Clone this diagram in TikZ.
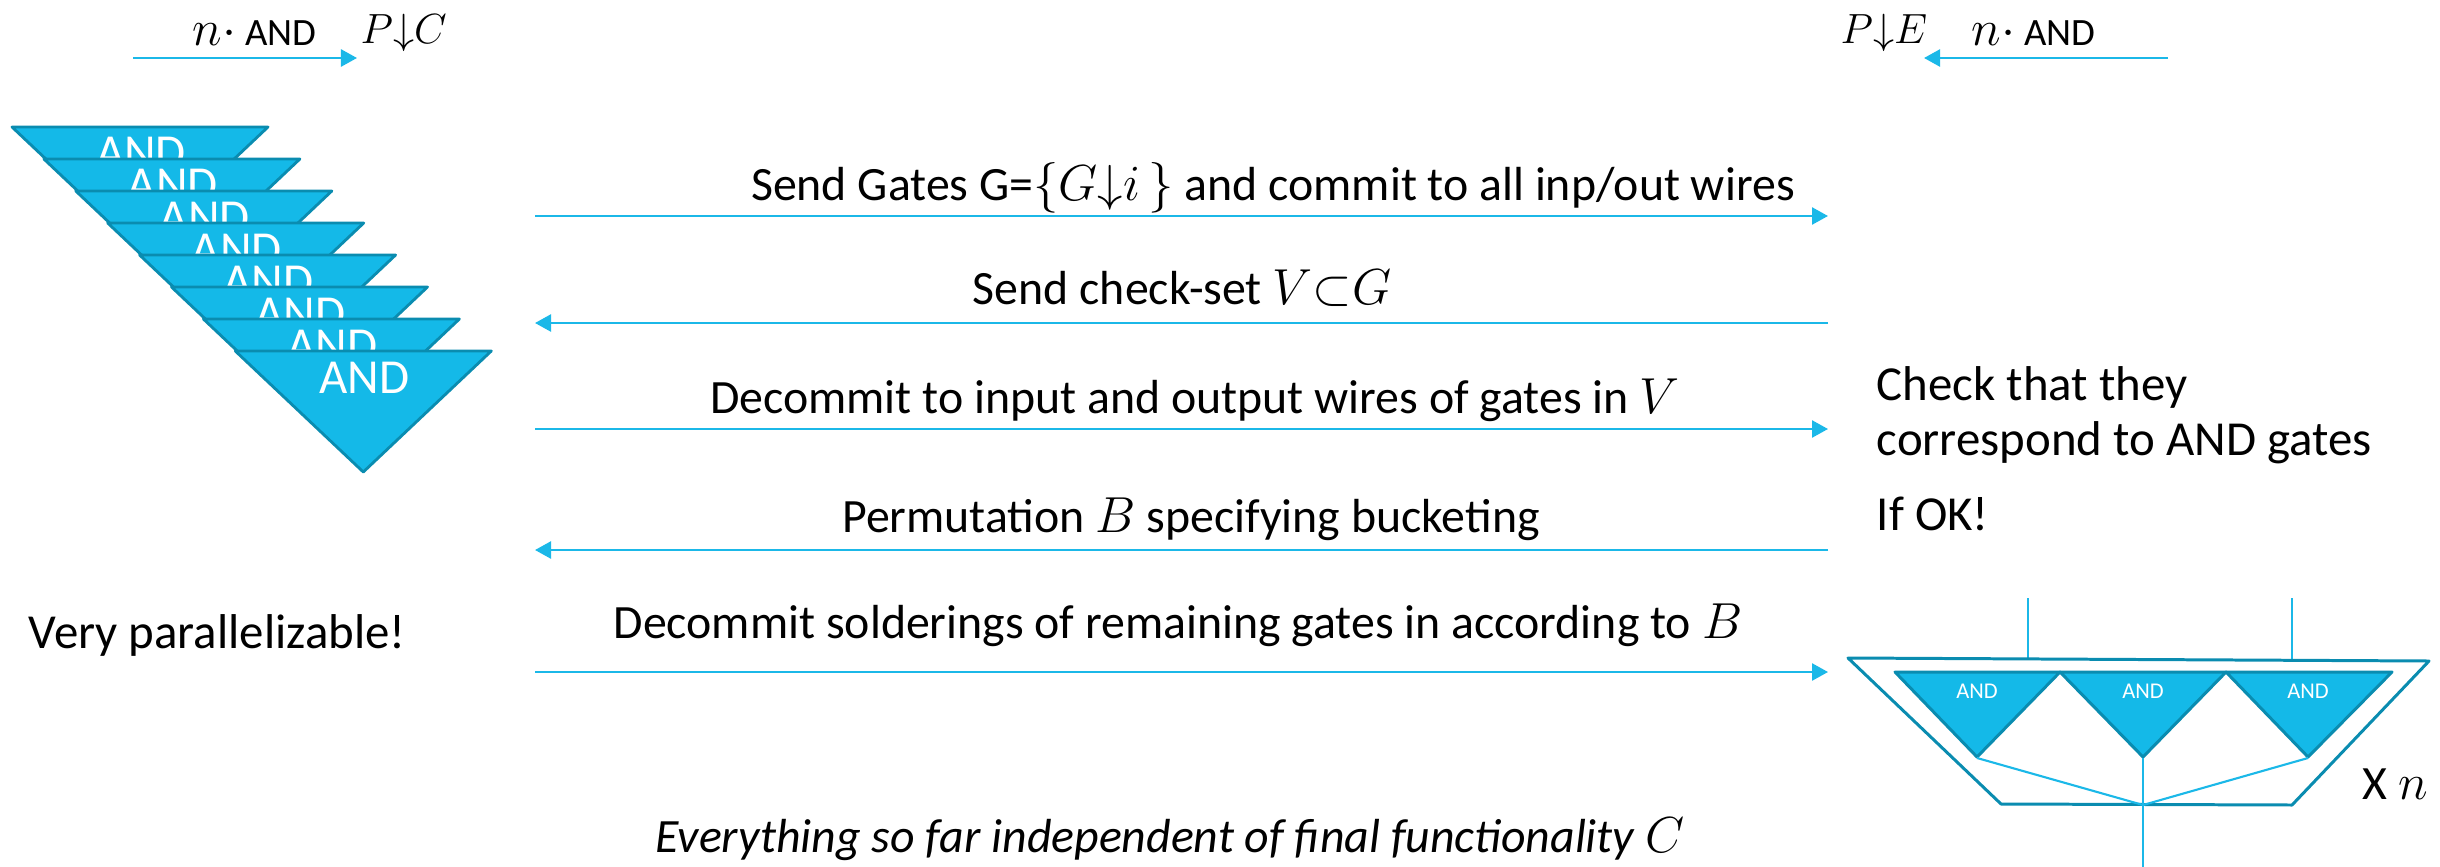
\documentclass[tikz,border=0pt]{standalone}
\usepackage{fontspec}
\setmainfont{Carlito}
\usetikzlibrary{arrows.meta}
\definecolor{arr}{HTML}{1BB8E8}
\definecolor{gfill}{HTML}{14B9E8}
\definecolor{gdraw}{HTML}{0A8CB0}
\tikzset{
  msg/.style={draw=arr, line width=0.7pt, -{Triangle[length=0.16cm,width=0.17cm]}},
  txt/.style={font=\fontsize{13.6pt}{17pt}\selectfont, inner sep=0pt, anchor=base},
  small/.style={font=\fontsize{11pt}{13pt}\selectfont, inner sep=0pt, anchor=base west},
  gate/.style={fill=gfill, draw=gdraw, line width=0.8pt, line join=round},
  gatelbl/.style={text=white, font=\fontsize{13.9pt}{17pt}\selectfont, inner sep=0pt, anchor=base},
  tinylbl/.style={text=white, font=\fontsize{6.4pt}{8pt}\selectfont, inner sep=0pt, anchor=base},
  frame/.style={draw=gdraw, line width=0.85pt, line join=round},
  wire/.style={draw=arr, line width=0.6pt},
}
\newcommand{\bign}{{\fontsize{13.5pt}{15pt}\selectfont$n\cdot$}}
\begin{document}
\begin{tikzpicture}[x=0.01cm, y=-0.01cm]
\useasboundingbox (0,0) rectangle (2440,867);

% ---- top labels ----
\coordinate (tlA) at (133,58);
\coordinate (tlB) at (357,58);
\draw[msg] (tlA) -- (tlB);
\node[small] (nandL) at (192,46) {\bign\ AND};
\node[inner sep=0pt, anchor=base west, font=\fontsize{12.8pt}{15pt}\selectfont] (PC) at (360,44) {$P{\downarrow}C$};

\coordinate (trA) at (2168,58);
\coordinate (trB) at (1924,58);
\draw[msg] (trA) -- (trB);
\node[small] (nandR) at (1971,46) {\bign\ AND};
\node[inner sep=0pt, anchor=base west, font=\fontsize{12.8pt}{15pt}\selectfont] (PE) at (1840,44) {$P{\downarrow}E$};

% ---- stacked gates ----
\foreach \i in {0,...,7}{
  \pgfmathsetmacro{\gx}{12+31.9*\i}
  \pgfmathsetmacro{\gy}{127+32*\i}
  \path[gate] (\gx,\gy) -- ++(256,0) -- ++(-128,121) -- cycle;
  \node[gatelbl] (g\i) at (\gx+129,\gy+42) {AND};
}

% ---- message arrows ----
\foreach \n/\y in {1/216,2/323,3/429,4/550,5/672}{
  \coordinate (L\n) at (535,\y);
  \coordinate (R\n) at (1828,\y);
}
\draw[msg] (L1) -- (R1);
\draw[msg] (R2) -- (L2);
\draw[msg] (L3) -- (R3);
\draw[msg] (R4) -- (L4);
\draw[msg] (L5) -- (R5);

\node[txt] (m1) at (1273,201) {Send Gates G=$\{G{\downarrow}i\,\}$ and commit to all inp/out wires};
\node[txt] (m2) at (1182,304) {Send check-set $V{\subset}G$};
\node[txt] (m3) at (1195,413) {Decommit to input and output wires of gates in $V$};
\node[txt] (m4) at (1191,532) {Permutation $B$ specifying bucketing};
\node[txt] (m5) at (1178,638) {Decommit solderings of remaining gates in according to $B$};

% ---- side texts ----
\node[txt, anchor=base west, font=\fontsize{13.9pt}{17pt}\selectfont] (vp) at (28,648) {Very parallelizable!};
\node[txt, anchor=base west, font=\fontsize{13.9pt}{17pt}\selectfont] (ck1) at (1876,400) {Check that they};
\node[txt, anchor=base west, font=\fontsize{13.9pt}{17pt}\selectfont] (ck2) at (1876,455) {correspond to AND gates};
\node[txt, anchor=base west, font=\fontsize{13.9pt}{17pt}\selectfont] (ok) at (1876,530) {If OK!};
\node[txt] (ev) at (1170,852) {\itshape Everything so far independent of final functionality $C$};

% ---- bucket gadget ----
\coordinate (vl) at (2028,598);
\coordinate (vlb) at (2028,659);
\coordinate (vr) at (2292,598);
\coordinate (vrb) at (2292,661);
\draw[wire] (vl) -- (vlb);
\draw[wire] (vr) -- (vrb);
\path[frame] (1848,658) -- (2429,661) -- (2292,805) -- (2001,804) -- cycle;
\path[gate, line width=0.85pt] (1895,672) -- (2060,672) -- (1977,757) -- cycle;
\path[gate, line width=0.85pt] (2060,672) -- (2226,672) -- (2143,757) -- cycle;
\path[gate, line width=0.85pt] (2226,672) -- (2392,672) -- (2308,757) -- cycle;
\node[tinylbl] (b1) at (1977,698) {AND};
\node[tinylbl] (b2) at (2143,698) {AND};
\node[tinylbl] (b3) at (2308,698) {AND};
\coordinate (a1) at (1977,758);
\coordinate (a2) at (2143,758);
\coordinate (a3) at (2308,758);
\coordinate (bc) at (2143,805);
\coordinate (bot) at (2143,867);
\draw[wire] (a1) -- (bc);
\draw[wire] (a2) -- (bc);
\draw[wire] (a3) -- (bc);
\draw[wire] (bc) -- (bot);
\node[txt, anchor=base west] (xn) at (2362,799) {X $n$};
\end{tikzpicture}
\end{document}
